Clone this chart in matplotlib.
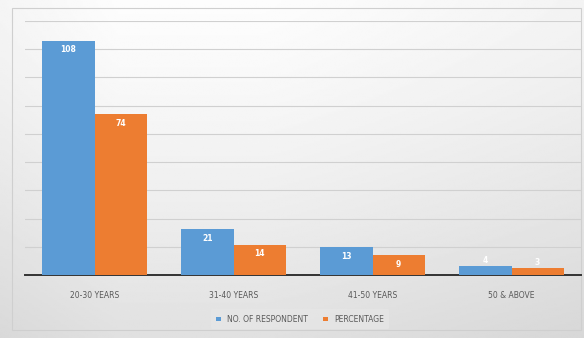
import numpy as np
import matplotlib
matplotlib.use("Agg")
import matplotlib.pyplot as plt

age_groups = ["20-30 YEARS", "31-40 YEARS", "41-50 YEARS", "50 & ABOVE"]
respondents = [108, 21, 13, 4]
percentage = [74, 14, 9, 3]

blue = "#5B9BD5"
orange = "#ED7D31"

fig = plt.figure(figsize=(5.84, 3.38), dpi=100)

# soft gray background: near white at the top, grayer toward bottom and right
bg = fig.add_axes([0, 0, 1, 1], zorder=0)
yy, xx = np.mgrid[0:1:200j, 0:1:300j]
shade = 0.99 - 0.11 * yy ** 1.3 - 0.07 * np.clip(xx - 0.45, 0, None) ** 1.1 \
    - 0.03 * np.clip(0.2 - xx, 0, None) * 5
bg.imshow(shade, cmap="gray", vmin=0, vmax=1, extent=[0, 1, 0, 1],
          aspect="auto", origin="upper")
bg.add_patch(plt.Rectangle((0.02, 0.025), 0.975, 0.95, fill=False,
                           ec="#cfcfcf", lw=0.8))
bg.set_xlim(0, 1)
bg.set_ylim(0, 1)
bg.axis("off")

ax = fig.add_axes([25 / 584, 1 - 275 / 338, 556 / 584, 254 / 338], zorder=1)
ax.patch.set_alpha(0)

x = np.arange(len(age_groups))
w = 0.375
b1 = ax.bar(x - w / 2, respondents, w, color=blue, label="NO. OF RESPONDENT", zorder=3)
b2 = ax.bar(x + w / 2, percentage, w, color=orange, label="PERCENTAGE", zorder=3)

for bars, vals in [(b1, respondents), (b2, percentage)]:
    for bar, v in zip(bars, vals):
        cx = bar.get_x() + bar.get_width() / 2
        if v > 6:
            ax.text(cx, v - 2.2, str(v), ha="center", va="top", color="white",
                    fontsize=5.5, fontweight="bold", zorder=4)
        else:
            ax.text(cx, v + 0.8, str(v), ha="center", va="bottom", color="white",
                    fontsize=5.5, fontweight="bold", zorder=4)

ax.set_xlim(-0.5, len(age_groups) - 0.5)
ax.set_ylim(0, 117)
ax.set_yticks(np.arange(0, 118, 13))
ax.yaxis.grid(True, color="#d0d0d0", lw=0.8)
ax.set_axisbelow(True)
ax.tick_params(axis="y", left=False, labelleft=False)
ax.tick_params(axis="x", bottom=False, labelsize=5.5, labelcolor="#595959", pad=8)
ax.set_xticks(x)
ax.set_xticklabels(age_groups)
for s in ["top", "right", "left"]:
    ax.spines[s].set_visible(False)
ax.spines["bottom"].set_color("#333333")
ax.spines["bottom"].set_linewidth(1.4)

leg = ax.legend(loc="upper center", bbox_to_anchor=(275 / 556, -0.12), ncol=2,
                fontsize=5.5, frameon=True, handlelength=0.6, handleheight=0.6,
                columnspacing=2.0, borderpad=0.7)
leg.get_frame().set_facecolor("#e6e6e6")
leg.get_frame().set_edgecolor("none")
for t in leg.get_texts():
    t.set_color("#595959")

fig.savefig("out.png", dpi=100)
